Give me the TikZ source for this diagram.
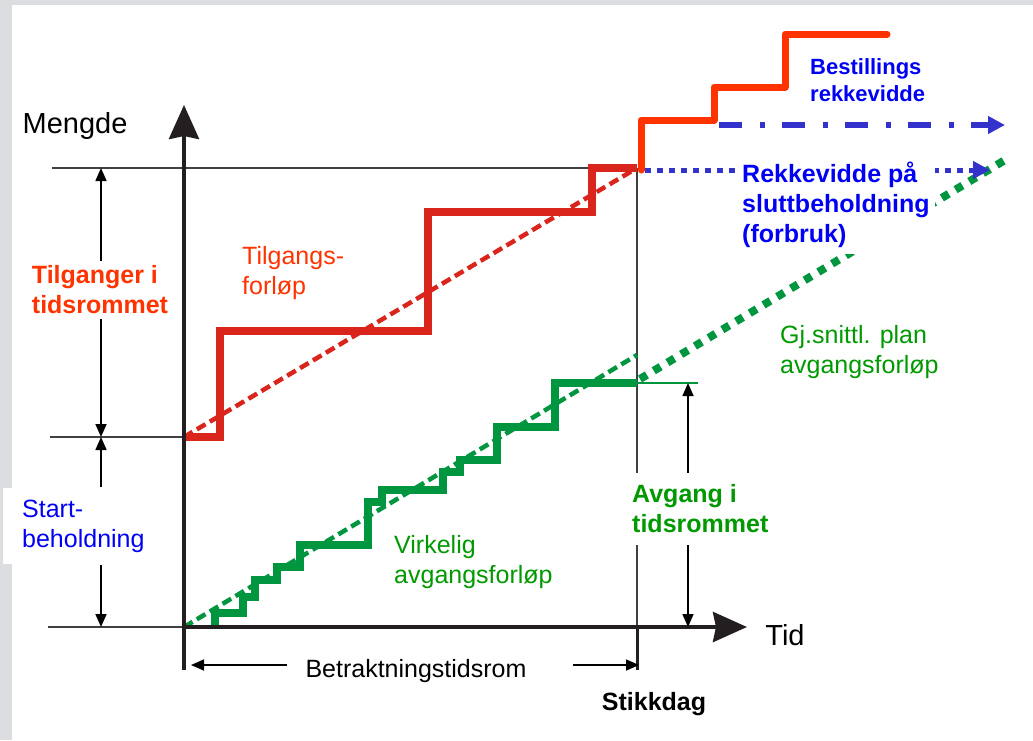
\documentclass[tikz,border=0pt]{standalone}
\usepackage{fontspec}
\setmainfont{Liberation Sans}
\usetikzlibrary{arrows.meta}

\definecolor{bordergray}{RGB}{220,221,224}
\definecolor{tilgred}{RGB}{218,37,29}
\definecolor{orred}{RGB}{255,51,0}
\definecolor{avggreen}{RGB}{0,150,64}
\definecolor{txtgreen}{RGB}{0,153,0}
\definecolor{arrblue}{RGB}{51,51,204}
\definecolor{txtblue}{RGB}{0,0,245}
\definecolor{axisblack}{RGB}{35,31,32}

\newcommand{\lblsize}{\fontsize{25}{30}\selectfont}
\newcommand{\axsize}{\fontsize{29}{34}\selectfont}

\tikzset{
  axisarrow/.style={line width=4pt, axisblack, -{Stealth[length=34pt,width=30pt,inset=3pt]}},
  helpline/.style={line width=1.3pt, black!75},
  dimarrow/.style={line width=1.6pt, black, -{Triangle[length=13pt,width=11pt]}},
  stairline/.style={line width=7.5pt, miter limit=4},
  meanline/.style={line width=4.5pt, dash pattern=on 10pt off 5pt},
  lbl/.style={font=\lblsize, align=left, inner sep=2pt},
  lblbold/.style={font=\lblsize\bfseries, align=left, inner sep=2pt},
}

\begin{document}
\begin{tikzpicture}[x=1pt, y=-1pt]
\useasboundingbox (0,0) rectangle (1033,740);
%--- frame ---
\fill[bordergray] (0,0) rectangle (1033,740);
\fill[white] (12,5) rectangle (1033,740);

%--- key points ---
\coordinate (O)     at (184,627);
\coordinate (yTip)  at (184,105);
\coordinate (xTip)  at (747,627);
\coordinate (yBot)  at (184,670);
\coordinate (S0)    at (184,437);   % start stock
\coordinate (T)     at (637,168);   % stock at end of period
\coordinate (stikk) at (637,627);
\coordinate (stikkBot) at (637,670);

%--- help lines ---
\draw[helpline] (52,168) -- (T);
\draw[helpline] (50,437) -- (S0);
\draw[helpline] (48,627) -- (O);
\draw[helpline] (T) -- (stikk);
\draw[line width=3pt, axisblack] (stikk) -- (stikkBot);

%--- green staircase (actual consumption) ---
\draw[stairline, avggreen] (215,627) -- (215,613) -- (243,613) -- (243,597)
  -- (255,597) -- (255,580) -- (277,580) -- (277,567) -- (300,567)
  -- (300,545) -- (368,545) -- (368,502) -- (382,502) -- (382,490)
  -- (443,490) -- (443,472) -- (460,472) -- (460,460) -- (497,460)
  -- (497,427) -- (555,427) -- (555,383) -- (637,383);
\draw[line width=2.5pt, avggreen] (637,383) -- (698,383);

%--- red staircase (receipts) ---
\draw[stairline, tilgred] (S0) -- (220,437) -- (220,331) -- (428,331)
  -- (428,212) -- (592,212) -- (592,168) -- (T);
\draw[line width=7pt, orred, line cap=round, line join=round]
  (641,170) -- (641,120) -- (714,120) -- (714,87) -- (785,87) -- (785,34) -- (887,34);

%--- mean lines ---
\draw[meanline, tilgred] (S0) -- (T);
\draw[meanline, avggreen] (O) -- (637,355);
\draw[line width=8pt, avggreen, dash pattern=on 8pt off 8pt] (640,379) -- (1005,160);

%--- blue arrows ---
\draw[line width=5pt, arrblue, dash pattern=on 6pt off 6pt,
  -{Triangle[length=17pt,width=17pt]}] (645,170) -- (990,170);
\draw[line width=5.5pt, arrblue, dash pattern=on 23pt off 18pt on 5pt off 17pt,
  -{Triangle[length=17pt,width=17pt]}] (719,125) -- (1005,125);

%--- axes ---
\draw[axisarrow] (yBot) -- (yTip);
\draw[axisarrow] (O) -- (xTip);
\node[font=\axsize, inner sep=0pt] (mengde) at (75,126) {Mengde};
\node[font=\axsize, inner sep=0pt] (tid) at (785,635) {Tid};

%--- labels ---
\node[lbl, orred, anchor=west] (tilgf) at (240,273) {Tilgangs-\\forløp};
\node[lbl, txtgreen, anchor=west] (virk) at (392,562) {Virkelig\\avgangsforløp};
\node[lbl, txtgreen, anchor=west] (gjsn) at (778,352) {Gj.snittl. plan\\avgangsforløp};
\node[lblbold, txtblue, anchor=west, font=\fontsize{22}{27}\selectfont\bfseries]
  (best) at (808,80) {Bestillings\\rekkevidde};
\node[lblbold, txtblue, anchor=west, fill=white, inner ysep=6pt, inner xsep=5pt]
  (rekk) at (737,205) {Rekkevidde på\\sluttbeholdning\\(forbruk)};
\node[lblbold, font=\lblsize\bfseries, inner sep=0pt] (stikkdag) at (654,704) {Stikkdag};

%--- dimension arrows ---
\coordinate (tTop) at (101,168);
\coordinate (tBot) at (101,437);
\coordinate (sBot) at (101,627);
\coordinate (aTop) at (688,383);
\coordinate (aBot) at (688,627);
\coordinate (bL) at (191,665);
\coordinate (bR) at (639,665);

\node[lblbold, orred, fill=white, inner ysep=5pt] (tilg) at (100,290) {Tilganger i\\tidsrommet};
\draw[dimarrow] (tilg.north -| tTop) -- (tTop);
\draw[dimarrow] (tilg.south -| tTop) -- (tBot);

\node[lbl, txtblue, fill=white, anchor=west, inner xsep=19pt, inner ysep=12pt]
  (startb) at (3,526) {Start-\\beholdning};
\draw[dimarrow] (startb.north -| tBot) -- (tBot);
\draw[dimarrow] (startb.south -| tBot) -- (sBot);

\node[lblbold, txtgreen, fill=white, anchor=west, inner xsep=4pt, inner ysep=12pt]
  (avg) at (628,509) {Avgang i\\tidsrommet};
\draw[dimarrow] (avg.north -| aTop) -- (aTop);
\draw[dimarrow] (avg.south -| aTop) -- (aBot);

\node[lbl, inner xsep=18pt] (betr) at (430,671) {Betraktningstidsrom\hspace*{28pt}};
\draw[dimarrow] (betr.west |- bL) -- (bL);
\draw[dimarrow] (betr.east |- bR) -- (bR);
\end{tikzpicture}
\end{document}
